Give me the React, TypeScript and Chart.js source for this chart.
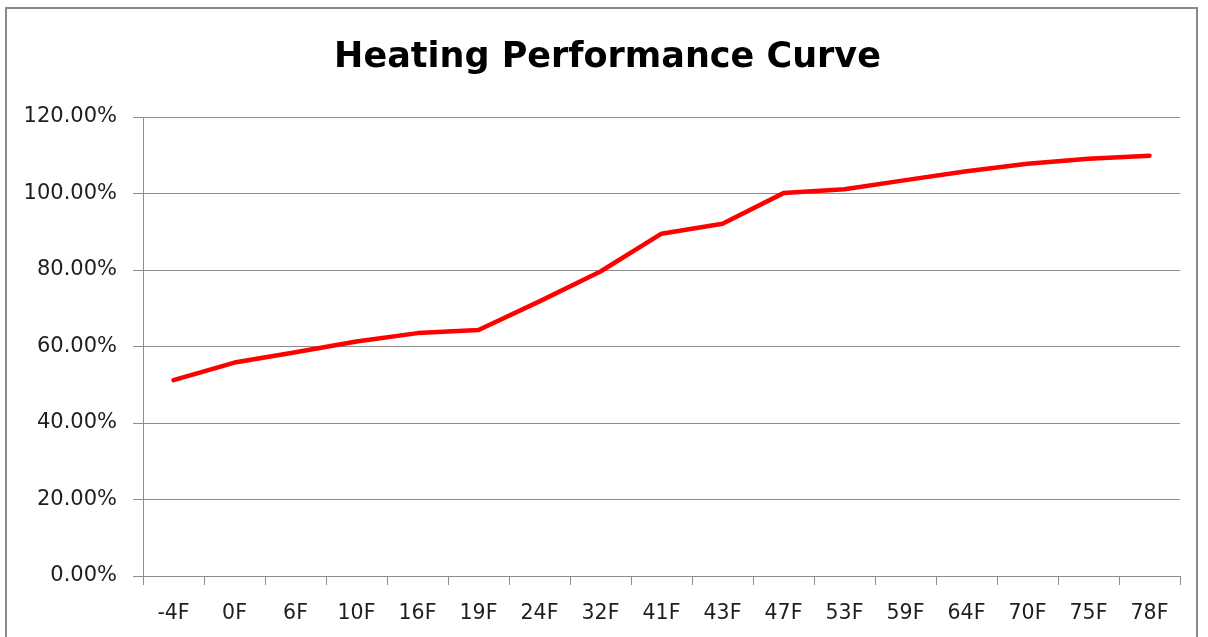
import React, { useEffect, useRef } from "react";
import { Chart, registerables } from "chart.js";

Chart.register(...registerables);

const categories = ["-4F", "0F", "6F", "10F", "16F", "19F", "24F", "32F", "41F", "43F", "47F", "53F", "59F", "64F", "70F", "75F", "78F"];
const performance = [51.2, 55.8, 58.5, 61.3, 63.5, 64.3, 71.8, 79.6, 89.5, 92.1, 100.1, 101.1, 103.5, 105.8, 107.8, 109.1, 109.9];
const yTicks = [0, 20, 40, 60, 80, 100, 120];
const titleText = "Heating Performance Curve";

export default function App() {
  const ref = useRef<HTMLCanvasElement | null>(null);
  useEffect(() => {
    if (!ref.current) return;
    const grid = "#8c8c8c";
    const textColor = "#1e1e1e";
    const family = "'DejaVu Sans', sans-serif";
    const chart = new Chart(ref.current, {
      type: "line",
      data: {
        labels: categories,
        datasets: [
          {
            data: performance,
            borderColor: "#ff0000",
            backgroundColor: "#ff0000",
            borderWidth: 4.5,
            pointRadius: 0,
            tension: 0,
            borderCapStyle: "round",
            borderJoinStyle: "round",
          },
        ],
      },
      options: {
        animation: false,
        responsive: false,
        maintainAspectRatio: false,
        layout: { padding: { left: 0, right: -7, top: 8, bottom: 0 } },
        plugins: {
          legend: { display: false },
          tooltip: { enabled: false },
          title: {
            display: true,
            text: titleText,
            color: "#000",
            font: { family, size: 35, weight: "bold", lineHeight: 1.2 },
            padding: { top: 28.5, bottom: 38.5 },
          },
        },
        scales: {
          x: {
            type: "category",
            offset: true,
            grid: { display: true, drawOnChartArea: false, offset: true, tickLength: 9, color: grid, lineWidth: 1 },
            border: { display: true, color: grid, width: 1 },
            ticks: { color: textColor, font: { family, size: 20.5 }, padding: 16, maxRotation: 0, autoSkip: false },
            afterFit: (s: any) => { s.height = 61; },
          },
          y: {
            min: 0,
            max: 120,
            afterBuildTicks: (s: any) => { s.ticks = yTicks.map((v) => ({ value: v })); },
            grid: { color: grid, tickLength: 10, lineWidth: 1 },
            border: { display: true, color: grid, width: 1 },
            ticks: {
              color: textColor,
              font: { family, size: 21 },
              padding: 16,
              callback: (v: any) => Number(v).toFixed(2) + "%",
            },
            afterFit: (s: any) => { s.width = 143; },
          },
          spacer: {
            type: "linear",
            position: "right",
            display: true,
            grid: { display: false, drawTicks: false },
            border: { display: false },
            ticks: { display: false },
            afterFit: (s: any) => { s.width = 35; },
          },
        },
      },
    });
    return () => chart.destroy();
  }, []);
  return (
    <div style={{ position: "fixed", left: 0, top: 0, width: 1208, height: 637, background: "#fff" }}>
      <canvas ref={ref} width={1208} height={637} style={{ position: "absolute", left: 0, top: 0, width: 1208, height: 637 }} />
      <div style={{ position: "absolute", left: 5, top: 7, width: 1193, height: 640, border: "2px solid #8a8a8a", boxSizing: "border-box", pointerEvents: "none" }} />
    </div>
  );
}
